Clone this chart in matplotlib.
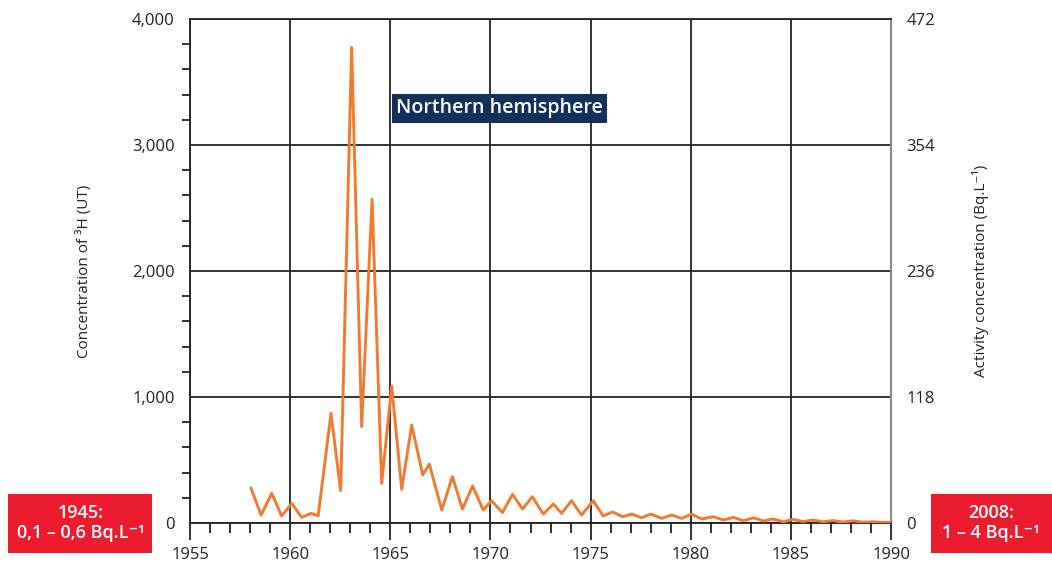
import matplotlib.pyplot as plt
from matplotlib.patches import Rectangle
from matplotlib.ticker import MultipleLocator, FuncFormatter

plt.rcParams['font.family'] = ['Open Sans', 'DejaVu Sans']

#-----Data (tritium, northern hemisphere)------------------------------------
years = [1958.05, 1958.55, 1959.08, 1959.58, 1960.08, 1960.58, 1961.04, 1961.4,
         1962.04, 1962.52, 1963.07, 1963.57, 1964.09, 1964.57, 1965.07, 1965.57,
         1966.07, 1966.62, 1966.95, 1967.57, 1968.1, 1968.6, 1969.11, 1969.64,
         1970.05, 1970.6, 1971.1, 1971.6, 1972.09, 1972.64, 1973.14, 1973.55,
         1974.05, 1974.55, 1975.13, 1975.63, 1976.1, 1976.6, 1977.05, 1977.55,
         1978.0, 1978.55, 1979.05, 1979.55, 1980.05, 1980.55, 1981.13, 1981.63,
         1982.13, 1982.63, 1983.13, 1983.63, 1984.1, 1984.63, 1985.1, 1985.6,
         1986.1, 1986.6, 1987.1, 1987.6, 1988.1, 1988.6, 1989.1, 1989.5, 1990.0]
ut = [275, 63, 236, 56, 156, 45, 77, 58,
      870, 256, 3775, 765, 2571, 315, 1087, 267,
      778, 381, 468, 103, 368, 111, 294, 103,
      177, 82, 228, 111, 209, 71, 151, 77,
      177, 63, 177, 56, 88, 50, 71, 42,
      71, 37, 63, 37, 71, 32, 50, 24,
      45, 18, 42, 16, 32, 10, 29, 12,
      24, 10, 20, 8, 18, 6, 10, 5, 5]

left_ticks = [0, 1000, 2000, 3000, 4000]
right_ticks = [0, 118, 236, 354, 472]
x_ticks = [1955, 1960, 1965, 1970, 1975, 1980, 1985, 1990]

#-----Figure------------------------------------------------------------------
fig = plt.figure(figsize=(10.52, 5.63), dpi=100)
ax = fig.add_axes([0.1806, 0.0710, 0.6664, 0.8952])

ax.plot(years, ut, color='#f27a30', lw=2.1, zorder=3,
        solid_joinstyle='round')

ax.set_xlim(1955, 1990)
ax.set_ylim(0, 4000)
ax.set_xticks(x_ticks)
ax.xaxis.set_minor_locator(MultipleLocator(1))
ax.set_yticks(left_ticks)
ax.yaxis.set_minor_locator(MultipleLocator(200))
ax.yaxis.set_major_formatter(FuncFormatter(lambda v, p: f'{int(v):,}'))

ax.grid(True, which='major', color='#222222', lw=1.3)
for s in ['left', 'bottom', 'top']:
    ax.spines[s].set_color('#222222')
    ax.spines[s].set_linewidth(1.3)
ax.spines['right'].set_color('#8a8a8a')
ax.spines['right'].set_linewidth(1.5)

ax.tick_params(axis='x', which='major', length=12, width=1.3, color='#222222',
               pad=5, labelsize=12, labelcolor='#222222')
ax.tick_params(axis='x', which='minor', length=7, width=1.3, color='#222222')
ax.tick_params(axis='y', which='major', length=0, pad=11, labelsize=12,
               labelcolor='#222222')
ax.tick_params(axis='y', which='minor', length=6, width=1.3, color='#222222')

ax.set_ylabel('Concentration of ³H (UT)', fontsize=11, color='#222222',
              labelpad=29)

#-----Second axis in Bq/L-----------------------------------------------------
ax2 = ax.twinx()
ax2.set_ylim(0, 472)
ax2.set_yticks(right_ticks)
ax2.tick_params(axis='y', length=0, pad=11, labelsize=12, labelcolor='#222222')
for s in ax2.spines.values():
    s.set_visible(False)
ax2.set_ylabel('Activity concentration (Bq.L⁻¹)', fontsize=11,
               color='#222222', labelpad=27)

#-----Labels in boxes---------------------------------------------------------
ax.text(1965.28, 3290, 'Northern hemisphere', fontsize=14, fontweight='semibold',
        color='white', va='center', ha='left', zorder=5,
        bbox=dict(boxstyle='square,pad=0.22', fc='#12305a', ec='none'))

fig.patches.append(Rectangle((8 / 1052, 10 / 563), 144 / 1052, 59 / 563,
                             transform=fig.transFigure, fc='#ec1c2e', ec='none'))
fig.text(81 / 1052, 40 / 563, '1945:\n0,1 – 0,6 Bq.L⁻¹', ha='center',
         va='center', color='white', fontsize=13, fontweight='semibold',
         linespacing=1.2)

fig.patches.append(Rectangle((931 / 1052, 10 / 563), 121 / 1052, 59 / 563,
                             transform=fig.transFigure, fc='#ec1c2e', ec='none'))
fig.text(991 / 1052, 40 / 563, '2008:\n1 – 4 Bq.L⁻¹', ha='center',
         va='center', color='white', fontsize=13, fontweight='semibold',
         linespacing=1.2)

fig.savefig('out.png', dpi=100)
